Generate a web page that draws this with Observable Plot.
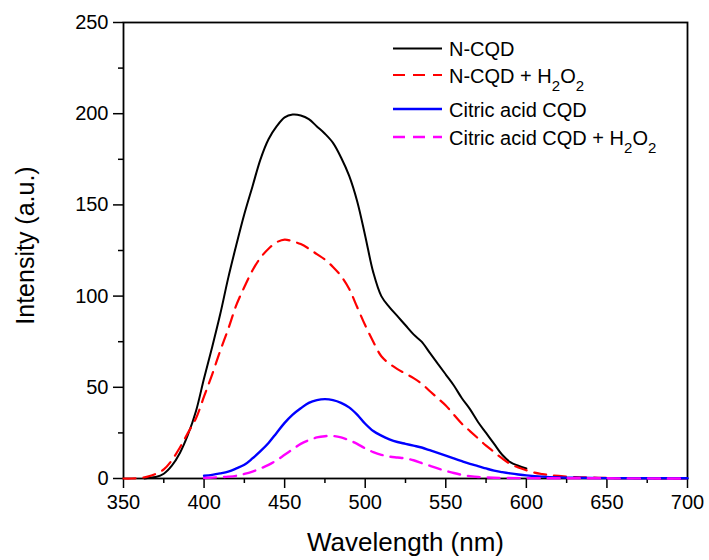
<!DOCTYPE html>
<html><head><meta charset="utf-8">
<script src="https://cdn.jsdelivr.net/npm/d3@7"></script>
<script src="https://cdn.jsdelivr.net/npm/@observablehq/plot@0.6"></script>
<style>body{margin:0;background:#fff}</style>
</head><body><div id="chart"></div>
<script>
// N-CQD (black solid)
const wlNCQD = [363,365,370,375,380,385,390,395,400,405,410,415,420,425,430,435,440,445,450,455,460,465,470,475,480,485,490,495,500,505,510,515,520,525,530,535,540,545,550,555,560,565,570,575,580,585,590,595,600];
const nCQD   = [0,0.3,0.8,2.6,7,14,24,37,55,72,90,110,128,145,160,175,186,193,198,199.5,199,197,193,189,184,176,166,152,133,113,100,94,89,84,79,75,69,63,57,51,44,38,31,25,19,13,9,7,5.5];
// N-CQD + H2O2 (red dashed)
const wlNCQDH = [350,355,360,365,370,375,380,385,390,395,400,405,410,415,420,425,430,435,440,445,450,455,460,465,470,475,480,485,490,495,500,505,510,515,520,525,530,535,540,545,550,555,560,565,570,575,580,585,590,595,600,605,610,615,620,630,640,650,660,680,700];
const nCQDH   = [0,0,0.3,1,2.5,5,10,17,25,33,45,57,70,82,95,105,114,121,126,129.5,131,130,128.5,126,123,120,116,111,104,94,84,75,67,63,60,57.5,55,52,48,44,40,35,30,26,22,18,14.5,11,8,6,4.5,3.2,2.4,1.8,1.4,0.8,0.5,0.3,0.2,0.1,0];
// Citric acid CQD (blue solid)
const wlCA = [400,405,410,415,420,425,430,435,440,445,450,455,460,465,470,475,480,485,490,495,500,505,510,515,520,525,530,535,540,545,550,555,560,565,570,575,580,585,590,595,600,610,620,630,650,700];
const caCQD = [1.5,2,2.8,3.8,5.5,7.5,11,15,19.5,25,30.5,35,38.5,41.5,43,43.5,43,41.5,39,35,30,26,23.5,21.5,20,19,18,17,15.5,14,12.5,11,9.5,8,6.8,5.5,4.3,3.5,2.8,2.2,1.7,1,0.6,0.4,0.2,0.1];
// Citric acid CQD + H2O2 (magenta dashed)
const wlCAH = [400,405,410,415,420,425,430,435,440,445,450,455,460,465,470,475,480,485,490,495,500,505,510,515,520,525,530,535,540,545,550,555,560,565,570,580,600,650,700];
const caCQDH = [0.3,0.5,0.7,1,1.5,2.5,3.8,5.5,7.5,10,13,16,19,21,22.5,23.2,23.3,22.5,21,19,16.5,14.5,13,12,11.5,11,10,8.5,7,5.5,4.2,3,2,1.3,0.8,0.4,0.2,0.1,0];

const xMajor = [350,400,450,500,550,600,650,700];
const xMinor = [375,425,475,525,575,625,675];
const yMajor = [0,50,100,150,200,250];
const yMinor = [25,75,125,175,225];

const series = [
  {wl: wlNCQD,  v: nCQD,   color: "#000000", dash: null,   width: 2},
  {wl: wlNCQDH, v: nCQDH,  color: "#ff0000", dash: "12,8", width: 2.2},
  {wl: wlCA,    v: caCQD,  color: "#0000ff", dash: null,   width: 2.4},
  {wl: wlCAH,   v: caCQDH, color: "#ff00ff", dash: "12,8", width: 2.4}
];

const lineMarks = series.map(s => Plot.line(s.wl.map((x, i) => ({x, y: s.v[i]})), {
  x: "x", y: "y", stroke: s.color, strokeWidth: s.width, strokeDasharray: s.dash, curve: "catmull-rom"
}));

const plot = Plot.plot({
  width: 709, height: 560,
  marginLeft: 123, marginRight: 22, marginTop: 22, marginBottom: 82,
  style: {fontFamily: "'Liberation Sans', Arial, sans-serif", fontSize: "20px", color: "#000", background: "#fff"},
  x: {domain: [350, 700]},
  y: {domain: [0, 250]},
  marks: [
    Plot.axisX({ticks: xMajor, tickSize: 10, tickPadding: 6, strokeWidth: 1.5, label: null, fontSize: 20, tickFormat: d => d}),
    Plot.axisX({ticks: xMinor, tickSize: 5, strokeWidth: 1.5, label: null, tickFormat: () => ""}),
    Plot.axisY({ticks: yMajor, tickSize: 10, tickPadding: 5, strokeWidth: 1.5, label: null, fontSize: 20, tickFormat: d => d}),
    Plot.axisY({ticks: yMinor, tickSize: 5, strokeWidth: 1.5, label: null, tickFormat: () => ""}),
    Plot.frame({stroke: "#000", strokeWidth: 1.8}),
    ...lineMarks,
    Plot.text(["Wavelength (nm)"], {frameAnchor: "bottom", textAnchor: "middle", lineAnchor: "middle", dy: 64, fontSize: 26, fill: "#000"}),
    Plot.text(["Intensity (a.u.)"], {frameAnchor: "left", textAnchor: "middle", lineAnchor: "middle", dx: -98, dy: -5, rotate: -90, fontSize: 25, fill: "#000"})
  ]
});

document.getElementById("chart").appendChild(plot);

// legend
const legend = [
  {label: ["N-CQD"], color: "#000000", dash: null, width: 2, y: 48.5},
  {label: ["N-CQD + H", "2", "O", "2"], color: "#ff0000", dash: "12,8", width: 2.2, y: 75},
  {label: ["Citric acid CQD"], color: "#0000ff", dash: null, width: 2.4, y: 109},
  {label: ["Citric acid CQD + H", "2", "O", "2"], color: "#ff00ff", dash: "12,8", width: 2.4, y: 137}
];
const svg = d3.select(plot);
const g = svg.append("g").attr("font-family", "'Liberation Sans', Arial, sans-serif").attr("text-anchor", "start");
legend.forEach(d => {
  g.append("line").attr("x1", 393).attr("x2", 442).attr("y1", d.y).attr("y2", d.y)
    .attr("stroke", d.color).attr("stroke-width", d.width)
    .attr("stroke-dasharray", d.dash);
  const t = g.append("text").attr("x", 449).attr("y", d.y + 7.5).attr("font-size", 20).attr("fill", "#000").attr("text-anchor", "start");
  d.label.forEach((part, i) => {
    const sub = i % 2 === 1;
    const ts = t.append("tspan").text(part);
    if (sub) ts.attr("font-size", 15).attr("dy", 8);
    else if (i > 0) ts.attr("dy", -8);
  });
});
</script>
</body></html>
